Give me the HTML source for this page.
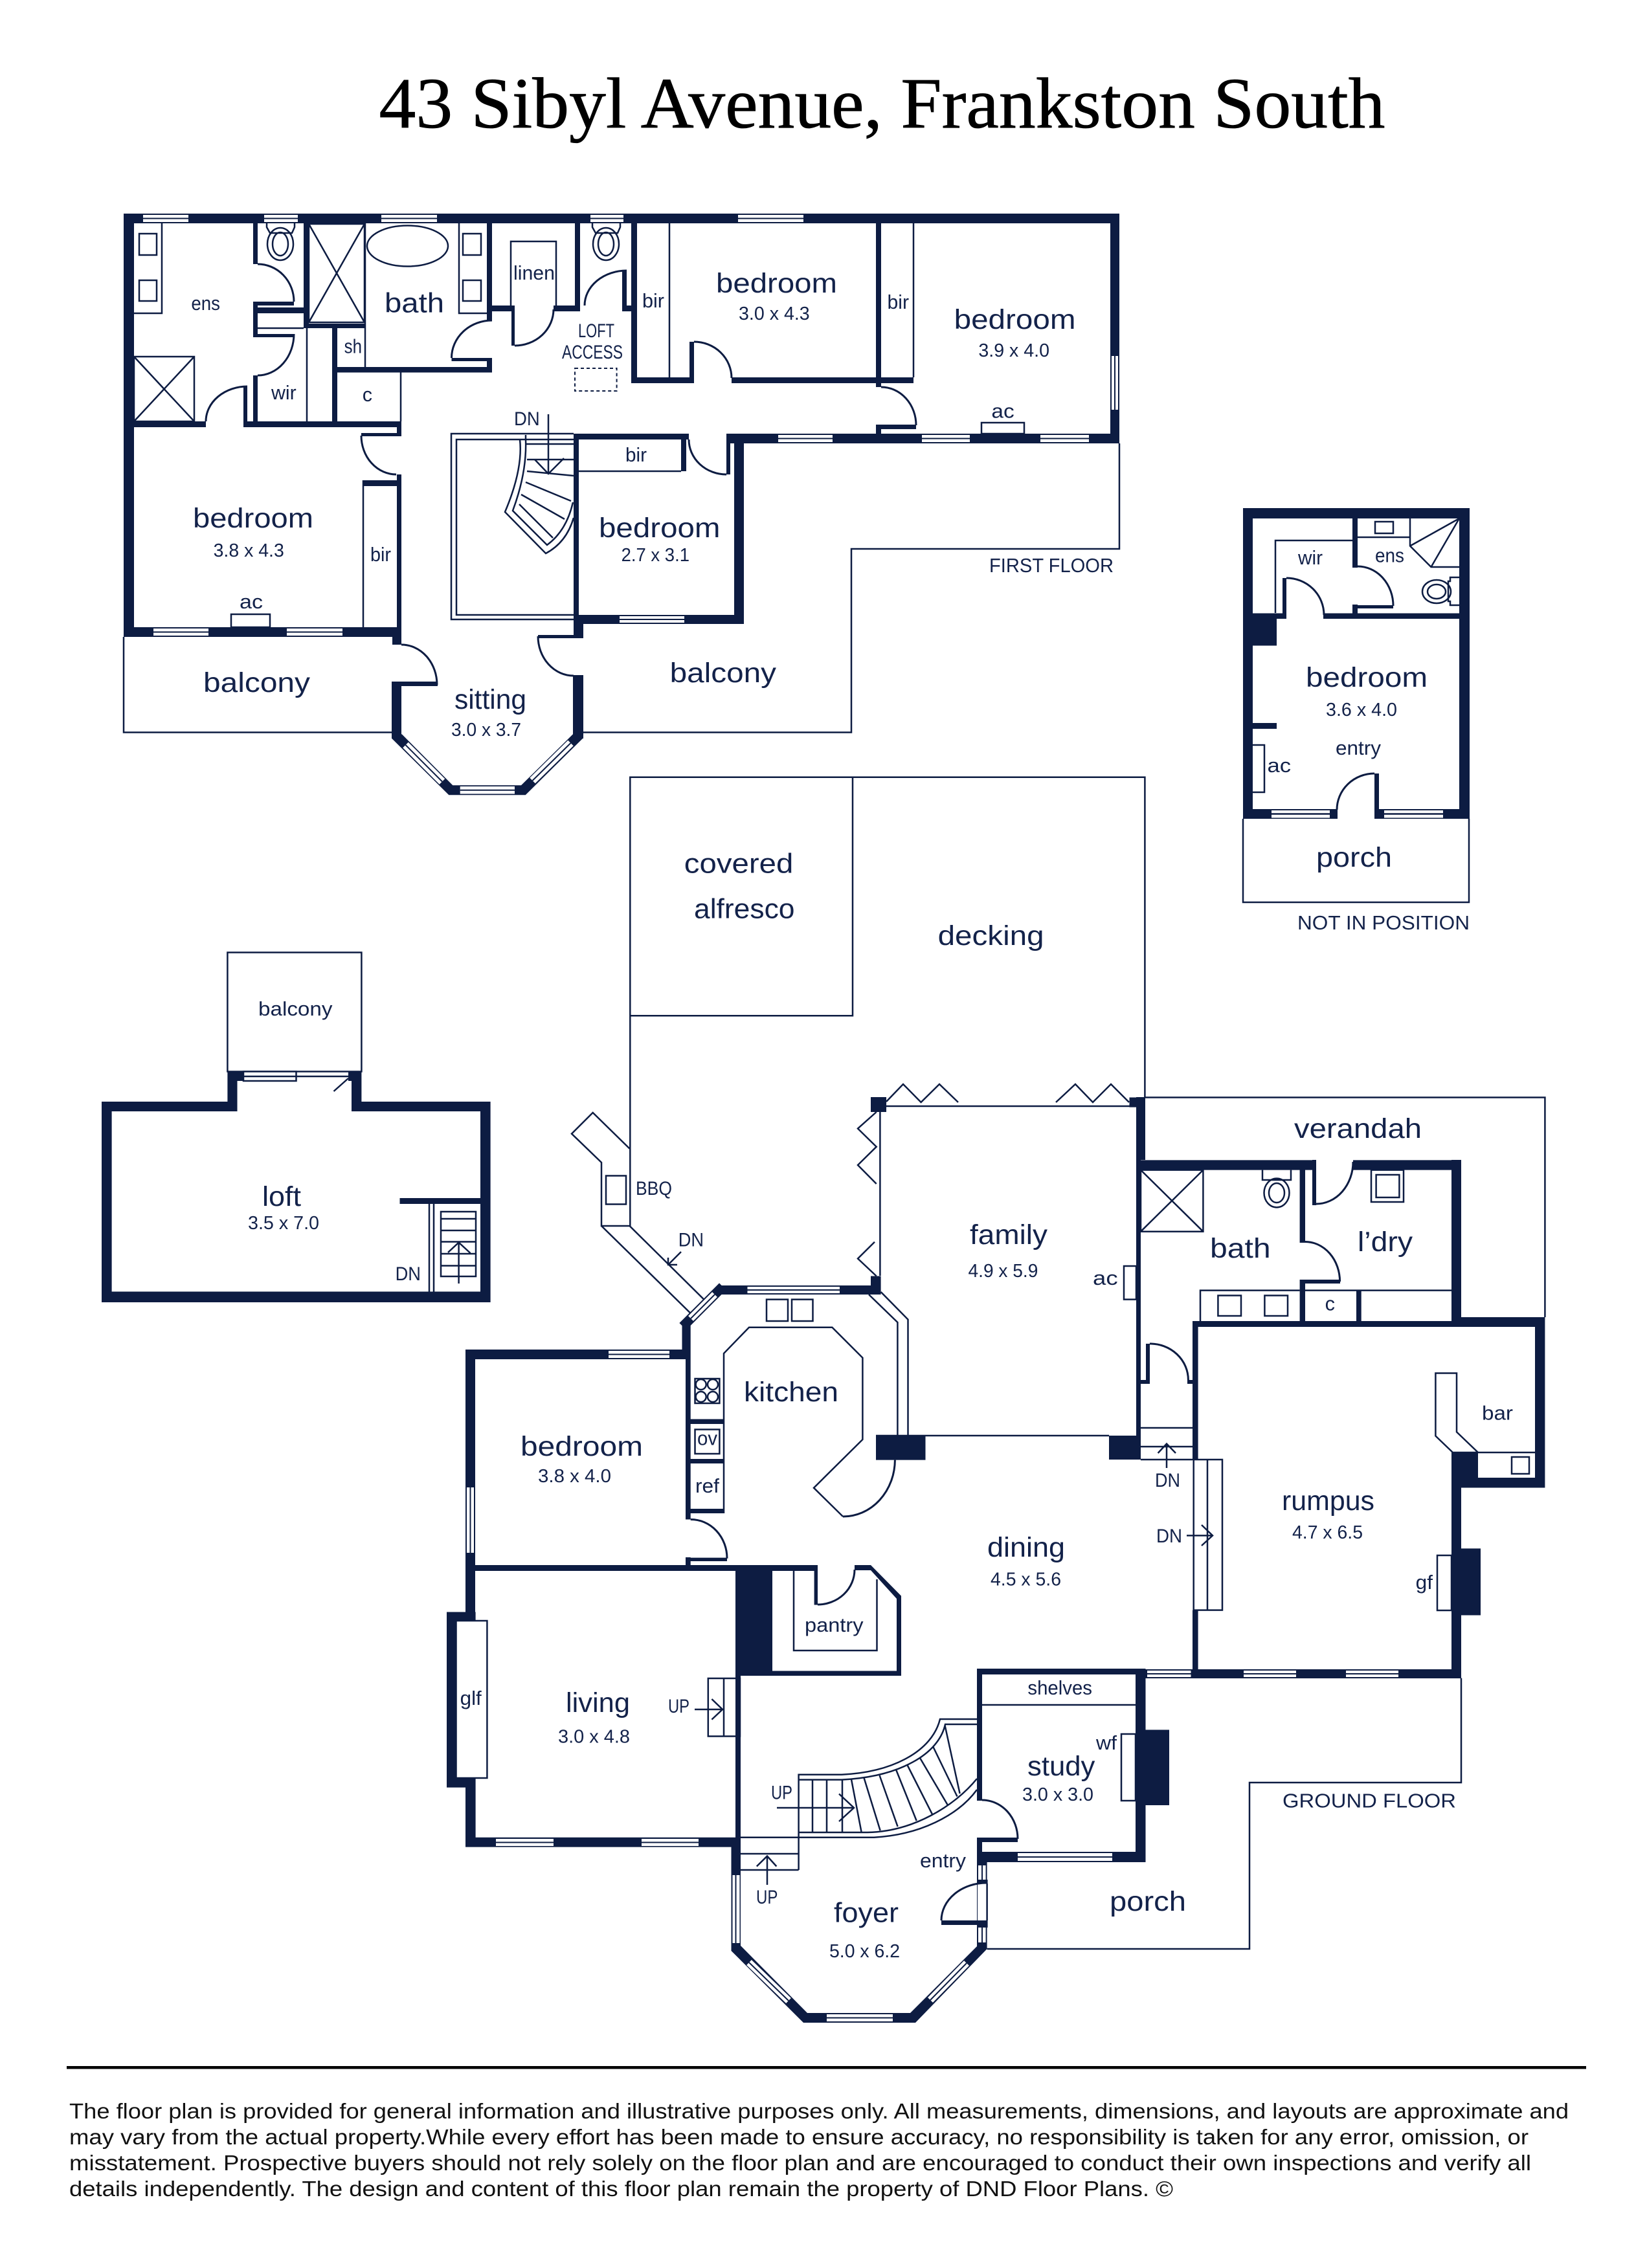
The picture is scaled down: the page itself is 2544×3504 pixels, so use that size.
<!DOCTYPE html>
<html><head><meta charset="utf-8"><title>43 Sibyl Avenue, Frankston South</title>
<style>
html,body{margin:0;padding:0;background:#fff}
svg{display:block}
.w{fill:#0d1c42;stroke:none}
.l{fill:none;stroke:#0d1c42;stroke-width:2.5}
.f{fill:#fff;stroke:#0d1c42;stroke-width:2.5}
.a{fill:none;stroke:#0d1c42;stroke-width:3}
text{font-family:"Liberation Sans",sans-serif;fill:#13224a}
.r{font-size:43px}.d{font-size:29px}.s{font-size:31px}.t{font-size:30px}
.ft{font-size:33px;fill:#111}
</style></head><body>
<svg xmlns="http://www.w3.org/2000/svg" width="2544" height="3504" viewBox="0 0 2544 3504">
<rect width="2544" height="3504" fill="#fff"/>

<!-- outline lines -->
<path class="l" d="M191 984V1131.5H607M901 1131.5H1315V848H1729V685"/>
<path class="l" d="M973.3 1894V1200.7H1768.4V1696M1317 1200.7V1569.3H973.3"/>
<path class="l" d="M1769 1695.5H2386.4V2035"/>
<path class="l" d="M1920 1265V1394H2269V1265"/>
<rect class="l" x="351.4" y="1471.5" width="207" height="184"/>
<path class="l" d="M2257 2592.6V2754H1930V3011H1524.6"/>

<!-- walls first floor -->
<path class="w" d="M191 330H1729V345H191ZM191 330H207V984H191ZM1715 330H1729V685H1715ZM1122 670H1729V685H1122ZM886 670H1064V679H886ZM1134 670H1149V964H1134ZM886 950H1149V964H886ZM886 670H894V951H886ZM886 951H901V986H886ZM831 981H901V986H831ZM885 1043H901V1141H885ZM191 969H620V984H191ZM606 969H620V996H606ZM613 733H620V969H613ZM561 742H620V751H561ZM605 1053H620V1141H605ZM605 1053H676V1060H605ZM207 651H318V660H207ZM376 651H620V660H376ZM613 651H620V674H613ZM558 669H620V674H558ZM376 597H382V660H376ZM391 345H398V408H391ZM391 466H398V521H391ZM391 580H398V659H391ZM391 475H469V484H391ZM391 466H454V472H391ZM398 516H454V521H398ZM469 345H477V507H469ZM469 500H564V507H469ZM513 507H521V651H513ZM521 567H760V575.5H521ZM752 345H760V495H752ZM697.5 553H760V558H697.5ZM752 553H760V575H752ZM752 472H795V481H752ZM790 472H795V534H790ZM855 472H896V481H855ZM888 345H896V481H888ZM961 418H968V481H961ZM961 472H984V481H961ZM975 345H984V592H975ZM975 583H1072V592H975ZM1065 528H1072V592H1065ZM1130 583H1353V592H1130ZM1353 345H1361V598H1353ZM1361 583H1411V592H1361ZM1353 656H1415V663H1353ZM1353 656H1361V685H1353ZM1052 679H1060V728H1052ZM1122 679H1128V733H1122Z"/>
<!-- sitting bay -->
<path class="w" d="M605 1140.7L693.3 1228.3H811.7L901 1140L885 1134.3L805 1213.3H699.3L620.7 1134.3Z"/>

<!-- first-floor doors -->
<path class="a" d="M398 408A56 58 0 0 1 454 466M454 516A56 64 0 0 1 398 580M382 597A64 54 0 0 0 318 651M760 495A62.500 58 0 0 0 697.500 553M795 534A60 56 0 0 0 855 478M968 418A65 54 0 0 0 903 472M1072 528A58 56 0 0 1 1130 584M1361 598A54 59 0 0 1 1415 657M1064 679A58 54 0 0 0 1122 733M558 673A54 60 0 0 0 612 733M620 996A55 62 0 0 1 675 1058M831 983A55 61 0 0 0 886 1044"/>

<!-- first-floor windows -->
<g fill="#fff">
<rect x="221" y="332" width="70" height="11"/><rect x="408" y="332" width="52" height="11"/><rect x="589" y="332" width="86" height="11"/><rect x="912" y="332" width="51" height="11"/><rect x="1140" y="332" width="101" height="11"/>
<rect x="237" y="971" width="85" height="11"/><rect x="443" y="971" width="86" height="11"/><rect x="957" y="952" width="100" height="10"/>
<rect x="1202" y="672" width="84" height="11"/><rect x="1424" y="672" width="74" height="11"/><rect x="1607" y="672" width="75" height="11"/>
<rect x="1717" y="550" width="10" height="83"/><rect x="710.700" y="1215" width="84.300" height="11.500"/>
</g>
<path class="l" style="stroke-width:2" d="M221 337.500H291M408 337.500H460M589 337.500H675M912 337.500H963M1140 337.500H1241M237 976.500H322M443 976.500H529M957 957H1057M1202 677.500H1286M1424 677.500H1498M1607 677.500H1682M1722 550V633M710.700 1220.700H795"/>
<path d="M626.500 1151L683 1207.500M881.500 1148L822.500 1206" stroke="#fff" stroke-width="12" fill="none"/>
<path class="l" style="stroke-width:2" d="M626.500 1151L683 1207.500M881.500 1148L822.500 1206"/>

<!-- first-floor fixtures -->
<path class="l" d="M207 484H250V345M215 361H242V394H215ZM215 433H242V465H215ZM207 551H300V651H207ZM207 551L300 651M300 551L207 651"/>
<path class="l" d="M477 346H563V498H477ZM477 346L563 498M563 346L477 498M564 345V567M398 507H469M474 507V651M619 575V651M561 742V969"/>
<path class="l" d="M412 345V351L417 360H451L455 351V345M915 345V351L920 360H954L958 351V345"/>
<ellipse class="l" cx="433" cy="377" rx="20" ry="25"/><ellipse class="l" cx="433" cy="377" rx="12" ry="18"/>
<ellipse class="l" cx="936" cy="377" rx="20" ry="25"/><ellipse class="l" cx="936" cy="377" rx="12" ry="18"/>
<ellipse class="l" cx="629.500" cy="380" rx="62.500" ry="31.500"/>
<path class="l" d="M709 345V484H752M715 361H743V394H715ZM715 433H743V465H715ZM789 472V373H859V472"/>
<rect x="888" y="569" width="64.600" height="35" fill="none" stroke="#0d1c42" stroke-width="2" stroke-dasharray="5 4"/>
<path class="l" d="M1034 345V583M1411 345V583M894 728H1052"/>
<rect class="l" x="357" y="949" width="60" height="20"/><rect class="l" x="1516" y="653" width="66" height="17"/>

<!-- void + stair first floor -->
<path class="l" d="M886 670H697V957H886M886 679H705V950H886"/>
<path class="l" d="M803 679Q808 725 780 791L843 855Q875 838 886 800M812 672V679Q814 730 792 789L845 842Q875 820 885 776"/>
<path class="l" d="M811 686H886M814 710H886M814 728L886 735M812 745L882 774M805 764L872 802M802 779L854 831"/>
<path class="l" d="M847 640V732M826 710L847 732L871 708"/>

<!-- loft -->
<path class="w" d="M157 1702H366.500V1717H157ZM157 1702H172.600V2012H157ZM157 1995.500H757.600V2012H157ZM742 1702H757.600V2012H742ZM543 1702H757.600V1717H543ZM351.400 1655.500H366.500V1717H351.400ZM543 1655.500H558.400V1717H543ZM354 1655.500H376V1670H354ZM538 1655.500H558V1670H538ZM617.500 1851H742V1860H617.500Z"/>
<rect class="f" x="376" y="1655.500" width="81.500" height="14.500"/>
<path class="l" d="M457.500 1663H538M376 1663H457.500M515.500 1686L538 1666M663 1860V1996M670 1860V1996"/>
<path class="l" d="M681 1872H735V1972H681ZM681 1883H735M681 1901H735M681 1918.500H735M681 1937H735M681 1955.500H735M708.600 1983V1919.600M692 1935L708.600 1919.600L726.500 1936"/>

<!-- not in position -->
<path class="w" d="M1920 785H2270V801H1920ZM1920 785H1935V1265H1920ZM2254 785H2270V1265H2254ZM1920 1250H2066V1265H1920ZM2123 1250H2270V1265H2123ZM1920 947.500H1972V997.500H1920ZM1972 947.500H1987V956H1972ZM1981 893H1987V956H1981ZM2044 947.500H2254V956H2044ZM2089 801H2097V877H2089ZM2089 934H2097V956H2089ZM2089 935H2152V940H2089ZM1935 1117H1972V1126H1935ZM2123 1195H2130V1251H2123Z"/>
<rect x="1964" y="1252" width="90" height="11.500" fill="#fff"/><rect x="2138" y="1252" width="91" height="11.500" fill="#fff"/>
<path class="l" d="M1964 1257.500H2054M2138 1257.500H2229"/>
<path class="a" d="M1987 893A58 57 0 0 1 2045 950M2097 875A55 61 0 0 1 2152 936M2123 1195A58 56 0 0 0 2065 1251"/>
<path class="l" d="M1970 947V835H2089M2097 830H2178M2178 801V843.500L2210.500 876H2254M2178 843.500L2254 801M2210.500 876L2254 801M2124 806H2152V824H2124ZM1935 1151H1953V1224H1935M2254 892H2240V898H2237V929H2240V935H2254"/>
<ellipse class="l" cx="2219" cy="914" rx="22" ry="18"/><ellipse class="l" cx="2219" cy="914" rx="14" ry="11"/>

<!-- ground walls -->
<path class="w" d="M721 2085H1054V2100H721ZM719 2085H734V2504H719ZM719 2418H1263V2427H719ZM1136 2418H1193V2589H1136ZM1193 2581.500H1392V2589H1193ZM1385 2465.600H1392V2589H1385ZM1320 2418H1345L1392 2465.600L1385 2470L1345 2426H1320ZM1257.600 2418H1263V2479.500H1257.600ZM690 2490.500H734.600V2504H690ZM690 2490.500H704.500V2761.600H690ZM690 2747H734.600V2761.600H690ZM719 2747H734.600V2853.600H719ZM719 2838.700H1144V2853.600H719ZM1136 2589H1144V2839H1136ZM1129.500 2838.700H1144V3014H1129.500Z"/>
<path class="w" d="M1129.500 3014L1241 3125H1414L1524.600 3011L1509 3007L1406 3110H1247L1144 3006Z"/>
<path class="w" d="M1509 2861H1524.600V3011H1509ZM1509 2578H1769.500V2587H1509ZM1509 2578H1517V2782H1509ZM1754 2578H1769.500V2877H1754ZM1509 2861H1769.500V2877H1509ZM1509 2839H1572V2846H1509ZM1509 2839H1517V2861H1509ZM1769.500 2672.500H1806V2789H1769.500ZM1454 2967H1524.600V2974H1454ZM1769.500 2579H2257V2593H1769.500Z"/>
<path class="w" d="M1111 1986H1360V2000H1111ZM1053.500 2044H1066.700V2100H1053.500ZM1059 2100H1066.700V2347.500H1059ZM1059 2406H1066.700V2420H1059ZM1059 2406.600H1123V2412H1059ZM1066.700 2192.500H1118V2200H1066.700ZM1066.700 2254H1118V2261H1066.700ZM1066.700 2331H1118V2338H1066.700Z"/>
<path d="M1111 1993L1060 2044" stroke="#0d1c42" stroke-width="15" fill="none" stroke-linecap="square"/>
<path class="w" d="M1345 1695H1369V1718H1345ZM1345 1971.500H1360.600V2000H1345ZM1353 2218H1429.500V2255.600H1353ZM1713 2218H1762V2255H1713ZM1755 1695H1769V1792H1755ZM1744.500 1695.500H1769V1710.600H1744.500ZM1755 1792H1762V2218H1755Z"/>
<path class="w" d="M1762 1792.400H2033V1807.600H1762ZM2090 1792.400H2257V1807.600H2090ZM2027 1792H2033V1862H2027ZM2007.600 1807H2016V1920H2007.600ZM2007.600 1977H2016V2041H2007.600ZM2007.600 1977H2070V1983H2007.600ZM2095 1993.600H2102.700V2041H2095ZM1770 2076H1776V2138H1770ZM1755 2132H1776V2138H1755ZM1834 2132H1842V2138H1834ZM1842 2041H1850.600V2256H1842ZM1842 2487.600H1850.600V2579H1842ZM1842 2041H2242V2050H1842ZM2242 2035H2386.400V2050H2242ZM2242 1792H2257V2050H2242ZM2371 2035H2386.400V2298.500H2371ZM2242 2283H2386.400V2298.500H2242ZM2242 2244H2283V2298.500H2242ZM2242 2298H2257V2593H2242ZM2257 2392.400H2287V2495.500H2257Z"/>

<!-- ground windows -->
<g fill="#fff">
<rect x="940" y="2087" width="94" height="11"/><rect x="1154.500" y="1988" width="142.500" height="10"/>
<rect x="721" y="2298" width="11" height="101"/><rect x="766" y="2841" width="89" height="11"/><rect x="991" y="2841" width="88" height="11"/>
<rect x="1131.500" y="2897" width="11" height="105"/><rect x="1277" y="3112" width="102" height="11"/>
<rect x="1572" y="2863" width="146" height="12"/><rect x="1511" y="2882" width="11.600" height="22"/><rect x="1511" y="2978" width="11.600" height="23"/>
<rect x="1510" y="2910" width="15" height="57"/>
<rect x="1772" y="2581" width="67.500" height="10"/><rect x="1921" y="2581" width="81" height="10"/><rect x="2079" y="2581" width="81" height="10"/>
</g>
<path class="l" style="stroke-width:2" d="M940 2092.500H1034M1154.500 1993H1297M726.500 2298V2399M766 2846.500H855M991 2846.500H1079M1136.500 2897V3002M1277 3117.500H1379M1572 2869H1718M1517 2882V2904M1517 2978V3001M1772 2586H1839.500M1921 2586H2002M2079 2586H2160M1524.600 2904V2978"/>
<path d="M1104 2000L1067 2037M1157 3032L1218 3091M1493 3033L1437 3090" stroke="#fff" stroke-width="11" fill="none"/>
<path class="l" style="stroke-width:2" d="M1104 2000L1067 2037M1157 3032L1218 3091M1493 3033L1437 3090"/>
<rect x="2033" y="1790" width="57" height="19" fill="#fff"/>

<!-- ground door arcs -->
<path class="a" d="M1066.700 2347.500A56 60 0 0 1 1123 2407.800M1263 2479A57 54 0 0 0 1320 2425M1382.400 2255.600A80 88 0 0 1 1302 2343M1517 2781A55 60 0 0 1 1572 2841M1524.600 2909A70 58 0 0 0 1454 2967M2033 1860A57 65 0 0 0 2090 1795M2016 1918.500A53.600 61.500 0 0 1 2069.600 1980M1776 2076A59 56 0 0 1 1835.400 2132"/>

<!-- bbq, path -->
<path class="l" d="M972.500 1774.600L915.700 1719L883 1751.600L929 1796V1894H972.500L1086.700 2007M929 1894L1066.700 2029"/>
<rect class="l" x="936" y="1816.500" width="31" height="44"/>
<path class="l" d="M1052 1934L1032 1954M1032 1943V1954H1046"/>

<!-- family -->
<path class="l" d="M1359.400 1718V1971M1369 1709H1745M1353 2218H1713"/>
<path class="l" d="M1369 1702L1395 1675L1422.600 1703L1451 1675L1480 1703M1631 1703L1661 1675L1688 1703L1716 1675L1744 1703M1353.700 1718L1325 1743.600L1353.700 1771.700L1325 1800L1353.700 1829M1351 1918.700L1325 1944.500L1353.700 1971.500"/>
<rect class="l" x="1736" y="1956" width="19" height="51.600"/>
<!-- kitchen -->
<path class="l" d="M1342 2000L1386.400 2043V2218M1360.600 1996L1402.500 2038.600V2218"/>
<path class="l" d="M1118 2338V2091L1157 2050.700H1285.400L1332.400 2097.800V2224L1257 2298.700L1302 2343"/>
<path class="l" d="M1184 2007.600H1217V2041H1184ZM1223 2007.600H1255.500V2041H1223ZM1073.500 2130H1111.400V2168H1073.500ZM1073.500 2208.500H1111.400V2246H1073.500Z"/>
<circle class="l" cx="1082.700" cy="2139" r="8"/><circle class="l" cx="1101" cy="2139" r="8"/><circle class="l" cx="1082.700" cy="2158" r="8"/><circle class="l" cx="1101" cy="2158" r="8"/>
<!-- pantry -->
<path class="l" d="M1226 2426V2550H1354.500V2440"/>
<!-- glf + steps -->
<rect class="f" x="704.500" y="2504" width="47.900" height="243"/>
<path class="l" d="M1143 2593H1093.800V2682.500H1143ZM1118 2593V2682.500M1073 2641H1116M1099.400 2625L1116 2641L1099.400 2656.600"/>
<!-- main stair -->
<path class="l" d="M1233.600 2889V2741.700H1300C1380 2738 1440 2705 1452 2656H1509M1233.600 2749.600H1300C1390 2745 1450 2710 1460 2664H1509M1233.600 2831H1340C1410 2830 1475 2790 1509 2748M1144 2838.700H1350C1420 2835 1480 2805 1509 2765M1144 2864H1233.600M1144 2889H1233.600"/>
<path class="l" d="M1255 2749.600V2831M1277 2749.600V2831M1301 2749.600V2831M1315 2749L1330.500 2830M1334.600 2747L1359.600 2828M1358.600 2743L1386.600 2822M1384 2734L1415.700 2813M1401 2726L1440 2803M1421 2716L1464 2789M1441 2698L1478.500 2775.500M1459.600 2666L1482.600 2771"/>
<path class="l" d="M1200 2793H1319M1296 2771.500L1319 2793L1296 2814M1185 2912V2867.600M1168.800 2883.500L1185 2867.600L1199.400 2883.500"/>
<!-- study -->
<path class="l" d="M1517 2634H1754M1732 2679H1754V2782H1732ZM1732 2679V2782M1524.600 2910V2967"/>
<!-- bath / laundry -->
<path class="l" d="M1762 1807.600H1858.400V1902.700H1762ZM1762 1807.600L1858.400 1902.700M1858.400 1807.600L1762 1902.700M1950 1807.600V1823H1994V1807.600"/>
<ellipse class="l" cx="1972" cy="1843" rx="19.500" ry="22.400"/><ellipse class="l" cx="1972" cy="1843" rx="12" ry="15"/>
<path class="l" d="M2118 1807.600H2168V1857H2118ZM2125.600 1815H2161.400V1850H2125.600ZM1854 2041V1993.600H2007.600M2016 1993.600H2242M1881.400 2001.500H1917V2033H1881.400ZM1953.400 2001.500H1989V2033H1953.400Z"/>
<!-- hall steps -->
<path class="l" d="M1762 2206H1842M1762 2235H1842M1762 2255H1842M1802 2268V2230.600M1788.600 2245L1802 2230.600L1816 2245"/>
<rect class="f" x="1843.700" y="2255" width="44.300" height="232.600"/>
<path class="l" d="M1865 2255V2487.600M1833 2372.400H1873M1856 2356L1873 2372.400L1856 2388"/>
<!-- bar + gf -->
<path class="l" d="M2283 2244L2250 2212.400V2121.500H2217.400V2218.500L2244 2244M2244 2244H2371M2335 2251H2362V2277H2335Z"/>
<rect class="l" x="2220" y="2403" width="22" height="85"/>

<!-- title -->
<text x="585.500" y="197" style='font-family:"Liberation Serif",serif;font-size:111px;fill:#000;stroke:#000;stroke-width:.8' textLength="1554" lengthAdjust="spacingAndGlyphs">43 Sibyl Avenue, Frankston South</text>

<!-- first floor labels -->
<text class="s" x="295.400" y="479" textLength="44.600" lengthAdjust="spacingAndGlyphs">ens</text>
<text class="r" x="594" y="482.500" textLength="92" lengthAdjust="spacingAndGlyphs">bath</text>
<text class="s" x="793" y="432" textLength="64" lengthAdjust="spacingAndGlyphs">linen</text>
<text class="s" x="531.600" y="545.700" textLength="27.400" lengthAdjust="spacingAndGlyphs">sh</text>
<text class="s" x="419" y="617" textLength="38.700" lengthAdjust="spacingAndGlyphs">wir</text>
<text class="s" x="559.700" y="620" textLength="15.300" lengthAdjust="spacingAndGlyphs">c</text>
<text class="r" x="298" y="815" textLength="186" lengthAdjust="spacingAndGlyphs">bedroom</text>
<text class="d" x="329.600" y="860" textLength="109.200" lengthAdjust="spacingAndGlyphs">3.8 x 4.3</text>
<text class="s" x="572" y="867" textLength="32" lengthAdjust="spacingAndGlyphs">bir</text>
<text class="s" x="370" y="940" textLength="36" lengthAdjust="spacingAndGlyphs">ac</text>
<text class="r" x="314" y="1069" textLength="165" lengthAdjust="spacingAndGlyphs">balcony</text>
<text class="r" x="702" y="1095" textLength="111" lengthAdjust="spacingAndGlyphs">sitting</text>
<text class="d" x="697" y="1137" textLength="108" lengthAdjust="spacingAndGlyphs">3.0 x 3.7</text>
<text class="t" x="893" y="521" textLength="56" lengthAdjust="spacingAndGlyphs">LOFT</text>
<text class="t" x="868" y="554" textLength="94" lengthAdjust="spacingAndGlyphs">ACCESS</text>
<text class="t" x="794" y="657" textLength="39.700" lengthAdjust="spacingAndGlyphs">DN</text>
<text class="s" x="992" y="475" textLength="34" lengthAdjust="spacingAndGlyphs">bir</text>
<text class="r" x="1106" y="452" textLength="187" lengthAdjust="spacingAndGlyphs">bedroom</text>
<text class="d" x="1141" y="494" textLength="109.700" lengthAdjust="spacingAndGlyphs">3.0 x 4.3</text>
<text class="s" x="1370.500" y="477" textLength="33.500" lengthAdjust="spacingAndGlyphs">bir</text>
<text class="r" x="1473.600" y="508" textLength="187.900" lengthAdjust="spacingAndGlyphs">bedroom</text>
<text class="d" x="1511.400" y="551" textLength="109.600" lengthAdjust="spacingAndGlyphs">3.9 x 4.0</text>
<text class="s" x="1531.400" y="645.600" textLength="35.300" lengthAdjust="spacingAndGlyphs">ac</text>
<text class="s" x="966" y="713" textLength="33" lengthAdjust="spacingAndGlyphs">bir</text>
<text class="r" x="925" y="830" textLength="187.500" lengthAdjust="spacingAndGlyphs">bedroom</text>
<text class="d" x="959.600" y="867" textLength="105.400" lengthAdjust="spacingAndGlyphs">2.7 x 3.1</text>
<text class="s" x="1528" y="884" textLength="192" lengthAdjust="spacingAndGlyphs">FIRST FLOOR</text>
<text class="r" x="1034.600" y="1054" textLength="164.400" lengthAdjust="spacingAndGlyphs">balcony</text>

<!-- not in position -->
<text class="r" x="2017" y="1061" textLength="188" lengthAdjust="spacingAndGlyphs">bedroom</text>
<text class="d" x="2048" y="1106" textLength="110" lengthAdjust="spacingAndGlyphs">3.6 x 4.0</text>
<text class="s" x="2063" y="1166" textLength="70" lengthAdjust="spacingAndGlyphs">entry</text>
<text class="s" x="1957.500" y="1193" textLength="36.500" lengthAdjust="spacingAndGlyphs">ac</text>
<text class="s" x="2005" y="872" textLength="38" lengthAdjust="spacingAndGlyphs">wir</text>
<text class="s" x="2124" y="868.500" textLength="45" lengthAdjust="spacingAndGlyphs">ens</text>
<text class="r" x="2033" y="1339" textLength="117" lengthAdjust="spacingAndGlyphs">porch</text>
<text class="s" x="2004" y="1436" textLength="266" lengthAdjust="spacingAndGlyphs">NOT IN POSITION</text>

<!-- loft labels -->
<text class="s" x="399" y="1569" textLength="114.500" lengthAdjust="spacingAndGlyphs">balcony</text>
<text class="r" x="405" y="1863" textLength="60" lengthAdjust="spacingAndGlyphs">loft</text>
<text class="d" x="383" y="1899" textLength="110" lengthAdjust="spacingAndGlyphs">3.5 x 7.0</text>
<text class="t" x="610.600" y="1978" textLength="39.400" lengthAdjust="spacingAndGlyphs">DN</text>

<!-- outdoor -->
<text class="r" x="1056.800" y="1348.300" textLength="168.500" lengthAdjust="spacingAndGlyphs">covered</text>
<text class="r" x="1072" y="1418.300" textLength="155.500" lengthAdjust="spacingAndGlyphs">alfresco</text>
<text class="r" x="1448.600" y="1460" textLength="164" lengthAdjust="spacingAndGlyphs">decking</text>
<text class="t" x="982" y="1846" textLength="56" lengthAdjust="spacingAndGlyphs">BBQ</text>
<text class="t" x="1047.700" y="1925.500" textLength="39.300" lengthAdjust="spacingAndGlyphs">DN</text>

<!-- ground labels -->
<text class="r" x="1149" y="2165" textLength="146" lengthAdjust="spacingAndGlyphs">kitchen</text>
<text class="r" x="1498" y="1922" textLength="120" lengthAdjust="spacingAndGlyphs">family</text>
<text class="d" x="1495.500" y="1973" textLength="107.900" lengthAdjust="spacingAndGlyphs">4.9 x 5.9</text>
<text class="r" x="1525" y="2405" textLength="120" lengthAdjust="spacingAndGlyphs">dining</text>
<text class="d" x="1530" y="2449.700" textLength="109" lengthAdjust="spacingAndGlyphs">4.5 x 5.6</text>
<text class="s" x="1074" y="2306" textLength="37" lengthAdjust="spacingAndGlyphs">ref</text>
<text class="s" x="1077" y="2232.700" textLength="31" lengthAdjust="spacingAndGlyphs">ov</text>
<text class="s" x="1243" y="2521" textLength="90.600" lengthAdjust="spacingAndGlyphs">pantry</text>
<text class="r" x="804" y="2249" textLength="189" lengthAdjust="spacingAndGlyphs">bedroom</text>
<text class="d" x="831" y="2290" textLength="113" lengthAdjust="spacingAndGlyphs">3.8 x 4.0</text>
<text class="r" x="874" y="2645" textLength="99" lengthAdjust="spacingAndGlyphs">living</text>
<text class="d" x="862" y="2692.400" textLength="111" lengthAdjust="spacingAndGlyphs">3.0 x 4.8</text>
<text class="s" x="710.600" y="2634" textLength="33.200" lengthAdjust="spacingAndGlyphs">glf</text>
<text class="t" x="1032" y="2646" textLength="33" lengthAdjust="spacingAndGlyphs">UP</text>
<text class="t" x="1191" y="2779.500" textLength="33" lengthAdjust="spacingAndGlyphs">UP</text>
<text class="t" x="1168" y="2941" textLength="33.400" lengthAdjust="spacingAndGlyphs">UP</text>
<text class="r" x="1288" y="2969.600" textLength="100" lengthAdjust="spacingAndGlyphs">foyer</text>
<text class="d" x="1281" y="3024" textLength="109" lengthAdjust="spacingAndGlyphs">5.0 x 6.2</text>
<text class="s" x="1587.400" y="2618" textLength="99.600" lengthAdjust="spacingAndGlyphs">shelves</text>
<text class="s" x="1693" y="2703" textLength="32" lengthAdjust="spacingAndGlyphs">wf</text>
<text class="r" x="1587" y="2743" textLength="104.400" lengthAdjust="spacingAndGlyphs">study</text>
<text class="d" x="1579" y="2782" textLength="110" lengthAdjust="spacingAndGlyphs">3.0 x 3.0</text>
<text class="s" x="1421" y="2885" textLength="71" lengthAdjust="spacingAndGlyphs">entry</text>
<text class="r" x="1714" y="2952" textLength="118" lengthAdjust="spacingAndGlyphs">porch</text>
<text class="s" x="1981" y="2792.500" textLength="268" lengthAdjust="spacingAndGlyphs">GROUND FLOOR</text>
<text class="r" x="1999" y="1758" textLength="197" lengthAdjust="spacingAndGlyphs">verandah</text>
<text class="r" x="1869" y="1943" textLength="93.600" lengthAdjust="spacingAndGlyphs">bath</text>
<text class="r" x="2097" y="1933" textLength="85" lengthAdjust="spacingAndGlyphs">l’dry</text>
<text class="s" x="2046.600" y="2024.500" textLength="15.400" lengthAdjust="spacingAndGlyphs">c</text>
<text class="s" x="2289" y="2193.600" textLength="48" lengthAdjust="spacingAndGlyphs">bar</text>
<text class="r" x="1980" y="2333" textLength="143" lengthAdjust="spacingAndGlyphs">rumpus</text>
<text class="d" x="1996" y="2377" textLength="109" lengthAdjust="spacingAndGlyphs">4.7 x 6.5</text>
<text class="s" x="2186.700" y="2455" textLength="26.300" lengthAdjust="spacingAndGlyphs">gf</text>
<text class="s" x="1688" y="1985" textLength="38.600" lengthAdjust="spacingAndGlyphs">ac</text>
<text class="t" x="1784" y="2297" textLength="39" lengthAdjust="spacingAndGlyphs">DN</text>
<text class="t" x="1786" y="2383" textLength="40" lengthAdjust="spacingAndGlyphs">DN</text>

<!-- footer -->
<rect x="103" y="3192" width="2347" height="4.500" fill="#000"/>
<text class="ft" x="107" y="3273" textLength="2316" lengthAdjust="spacingAndGlyphs">The floor plan is provided for general information and illustrative purposes only. All measurements, dimensions, and layouts are approximate and</text>
<text class="ft" x="107" y="3313" textLength="2254" lengthAdjust="spacingAndGlyphs">may vary from the actual property.While every effort has been made to ensure accuracy, no responsibility is taken for any error, omission, or</text>
<text class="ft" x="107" y="3353" textLength="2258" lengthAdjust="spacingAndGlyphs">misstatement. Prospective buyers should not rely solely on the floor plan and are encouraged to conduct their own inspections and verify all</text>
<text class="ft" x="107" y="3393" textLength="1705" lengthAdjust="spacingAndGlyphs">details independently. The design and content of this floor plan remain the property of DND Floor Plans. ©</text>
</svg>
</body></html>
